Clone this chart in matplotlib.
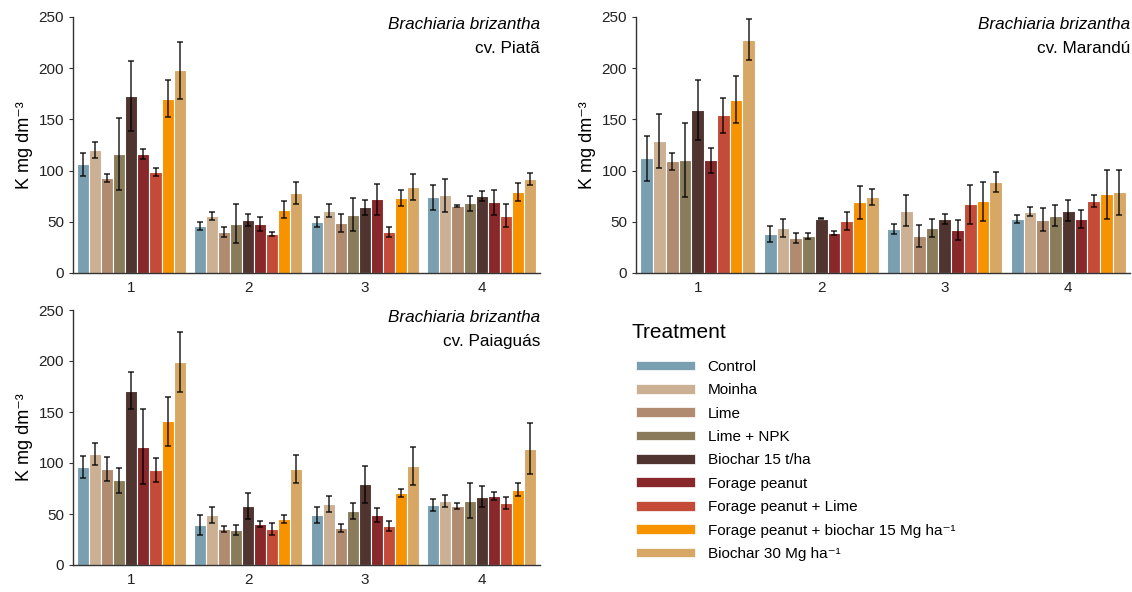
import matplotlib.pyplot as plt
import numpy as np
from matplotlib.patches import Patch

plt.rcParams['font.family'] = ['Liberation Sans', 'DejaVu Sans']

treatments = ['Control', 'Moinha', 'Lime', 'Lime + NPK', 'Biochar 15 t/ha',
              'Forage peanut', 'Forage peanut + Lime',
              'Forage peanut + biochar 15 Mg ha⁻¹', 'Biochar 30 Mg ha⁻¹']
colors = ['#7a9fb0', '#cbb093', '#b08b6f', '#8a7b5b', '#4f3430',
          '#88282a', '#c44b37', '#f79200', '#d7a865']
depths = ['1', '2', '3', '4']

# K mg dm-3, rows = depth, cols = treatment
piata_mean = [[106, 120, 93, 116, 173, 116, 99, 170, 198],
              [46, 56, 40, 48, 52, 48, 38, 62, 78],
              [50, 61, 49, 57, 64, 72, 40, 73, 84],
              [74, 76, 65, 68, 75, 69, 56, 79, 92]]
piata_err = [[11, 8, 4, 35, 34, 5, 4, 18, 28],
             [4, 4, 5, 19, 6, 7, 2, 8, 11],
             [5, 6, 9, 16, 7, 15, 5, 8, 13],
             [12, 16, 1, 7, 5, 12, 11, 9, 6]]

marandu_mean = [[112, 129, 109, 110, 159, 110, 154, 169, 228],
                [38, 44, 34, 36, 53, 39, 51, 69, 74],
                [43, 61, 36, 44, 53, 42, 67, 70, 89],
                [53, 60, 52, 56, 61, 53, 70, 77, 79]]
marandu_err = [[22, 26, 8, 36, 29, 12, 17, 23, 20],
               [8, 9, 5, 3, 0.5, 2, 9, 16, 8],
               [5, 15, 11, 9, 5, 10, 19, 19, 10],
               [4, 4, 11, 10, 10, 9, 6, 24, 22]]

paiaguas_mean = [[96, 109, 94, 83, 171, 116, 93, 141, 199],
                 [39, 49, 35, 34, 58, 40, 35, 45, 94],
                 [49, 60, 36, 53, 79, 49, 38, 71, 97],
                 [59, 63, 58, 63, 67, 68, 61, 74, 114]]
paiaguas_err = [[11, 11, 12, 12, 18, 37, 12, 24, 29],
                [10, 8, 3, 5, 13, 3, 6, 4, 14],
                [8, 8, 4, 8, 18, 7, 5, 4, 19],
                [6, 6, 3, 17, 10, 4, 6, 6, 25]]

panels = [('cv. Piatã', piata_mean, piata_err, [73, 17, 540, 273]),
          ('cv. Marandú', marandu_mean, marandu_err, [636, 17, 1130, 273]),
          ('cv. Paiaguás', paiaguas_mean, paiaguas_err, [73, 310, 540, 565])]

W, H = 1132, 592
fig = plt.figure(figsize=(W / 100, H / 100), dpi=100)

n = len(treatments)
group_w = 0.93
bw = group_w / n
x = np.arange(1, 5)

for cv, mean, err, (x0, y0, x1, y1) in panels:
    ax = fig.add_axes([x0 / W, 1 - y1 / H, (x1 - x0) / W, (y1 - y0) / H])
    mean = np.array(mean)
    err = np.array(err)
    for i in range(n):
        pos = x - group_w / 2 + bw * (i + 0.5)
        ax.bar(pos, mean[:, i], width=bw, color=colors[i], edgecolor='white',
               linewidth=0.8, zorder=2)
        ax.errorbar(pos, mean[:, i], yerr=err[:, i], fmt='none', ecolor='black',
                    elinewidth=1.1, capsize=2, capthick=1.1, alpha=0.85, zorder=3)
    ax.set_xlim(0.5, 4.5)
    ax.set_ylim(0, 250)
    ax.set_yticks([0, 50, 100, 150, 200, 250])
    ax.set_xticks(x)
    ax.set_xticklabels(depths)
    ax.tick_params(axis='both', labelsize=11, length=3, color='#333333',
                   labelcolor='#222222')
    ax.tick_params(axis='x', length=0, pad=6)
    for s in ['top', 'right']:
        ax.spines[s].set_visible(False)
    for s in ['left', 'bottom']:
        ax.spines[s].set_color('#333333')
        ax.spines[s].set_linewidth(1.0)
    ax.set_ylabel('K mg dm⁻³', fontsize=13, labelpad=4)
    ax.text(1.0, 1.0, 'Brachiaria brizantha', style='italic', fontsize=12.3,
            ha='right', va='top', transform=ax.transAxes)
    ax.text(1.0, 0.905, cv, fontsize=12.3, ha='right', va='top',
            transform=ax.transAxes)

fig.text(632 / W, 1 - 333 / H, 'Treatment', fontsize=15, ha='left', va='center')
handles = [Patch(facecolor=c, edgecolor='white', linewidth=0.5) for c in colors]
leg = fig.legend(handles, treatments, loc='upper left',
                 bbox_to_anchor=(622 / W, 1 - 346 / H), frameon=False,
                 fontsize=11, handlelength=3.9, handleheight=0.6,
                 labelspacing=0.615, handletextpad=0.8)

fig.savefig('out.png', dpi=100)
